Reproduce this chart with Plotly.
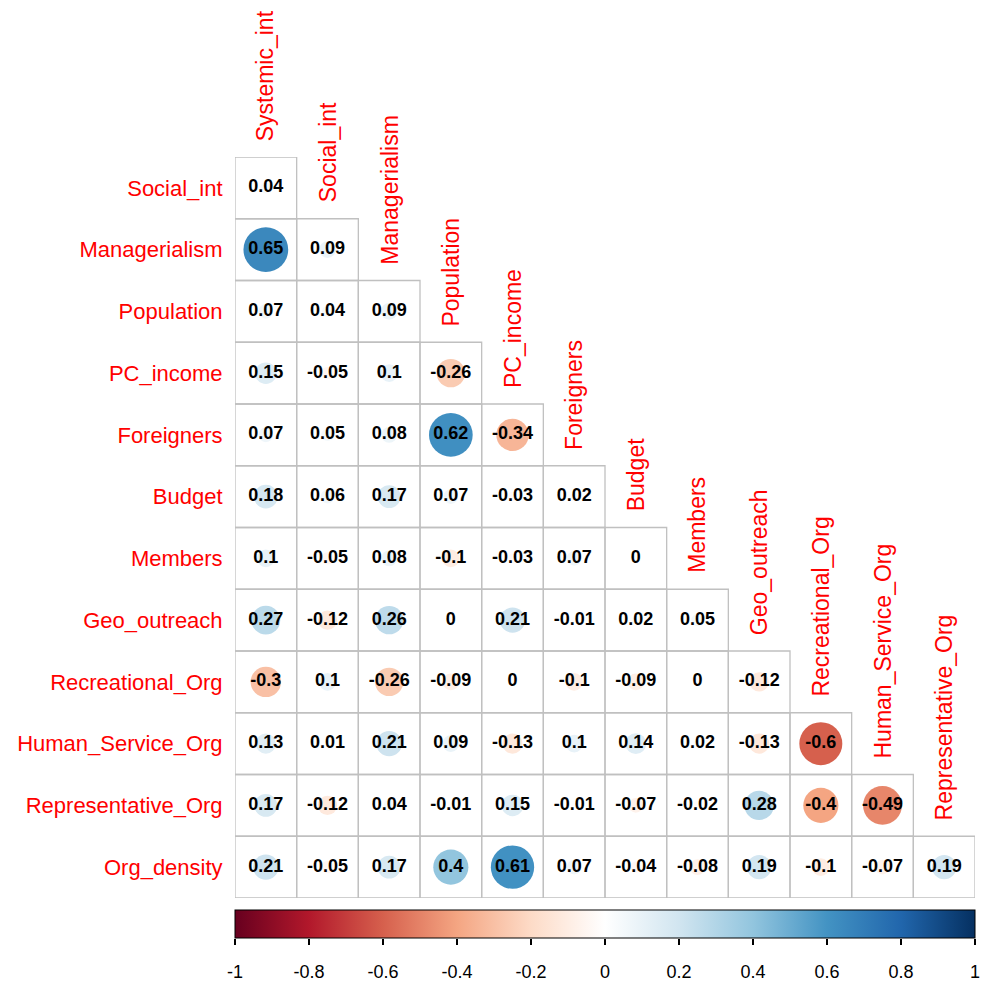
import plotly.graph_objects as go

W, H = 986, 983

col_labels = ["Systemic_int", "Social_int", "Managerialism", "Population", "PC_income",
              "Foreigners", "Budget", "Members", "Geo_outreach", "Recreational_Org",
              "Human_Service_Org", "Representative_Org"]
row_labels = ["Social_int", "Managerialism", "Population", "PC_income", "Foreigners",
              "Budget", "Members", "Geo_outreach", "Recreational_Org", "Human_Service_Org",
              "Representative_Org", "Org_density"]

# lower-triangle correlations, row i has i+1 values (columns 0..i)
r_social_int = [0.04]
r_managerialism = [0.65, 0.09]
r_population = [0.07, 0.04, 0.09]
r_pc_income = [0.15, -0.05, 0.1, -0.26]
r_foreigners = [0.07, 0.05, 0.08, 0.62, -0.34]
r_budget = [0.18, 0.06, 0.17, 0.07, -0.03, 0.02]
r_members = [0.1, -0.05, 0.08, -0.1, -0.03, 0.07, 0]
r_geo_outreach = [0.27, -0.12, 0.26, 0, 0.21, -0.01, 0.02, 0.05]
r_recreational = [-0.3, 0.1, -0.26, -0.09, 0, -0.1, -0.09, 0, -0.12]
r_human_service = [0.13, 0.01, 0.21, 0.09, -0.13, 0.1, 0.14, 0.02, -0.13, -0.6]
r_representative = [0.17, -0.12, 0.04, -0.01, 0.15, -0.01, -0.07, -0.02, 0.28, -0.4, -0.49]
r_org_density = [0.21, -0.05, 0.17, 0.4, 0.61, 0.07, -0.04, -0.08, 0.19, -0.1, -0.07, 0.19]

rows = [r_social_int, r_managerialism, r_population, r_pc_income, r_foreigners, r_budget,
        r_members, r_geo_outreach, r_recreational, r_human_service, r_representative,
        r_org_density]

cbar_ticks = [-1, -0.8, -0.6, -0.4, -0.2, 0, 0.2, 0.4, 0.6, 0.8, 1]
cbar_ticktext = ["-1", "-0.8", "-0.6", "-0.4", "-0.2", "0", "0.2", "0.4", "0.6", "0.8", "1"]

rdbu = ["#67001F", "#B2182B", "#D6604D", "#F4A582", "#FDDBC7", "#FFFFFF",
        "#D1E5F0", "#92C5DE", "#4393C3", "#2166AC", "#053061"]
colorscale = [[k / (len(rdbu) - 1), c] for k, c in enumerate(rdbu)]

FONT = "Arial, Liberation Sans"

# layout geometry (pixels)
left, right, top, bottom = 235, 975, 157, 898
bar_top, bar_bottom = 910, 938
n = len(col_labels)
cell_px = (right - left) / n

xs, ys, vals, texts, sizes = [], [], [], [], []
for i, rv in enumerate(rows):
    for j, v in enumerate(rv):
        xs.append(j)
        ys.append(i)
        vals.append(v)
        texts.append("%g" % v)
        sizes.append(0.9 * (abs(v) ** 0.5) * cell_px)

fig = go.Figure()
fig.add_trace(go.Scatter(
    x=xs, y=ys, mode="markers+text", text=texts, textposition="middle center",
    textfont=dict(family=FONT, size=18, color="black", weight="bold"),
    marker=dict(size=sizes, color=vals, colorscale=colorscale, cmin=-1, cmax=1,
                line=dict(width=0), opacity=1,
                showscale=True,
                colorbar=dict(orientation="h", x=(left + right) / 2 / W, xanchor="center",
                              len=(right - left) / W, lenmode="fraction",
                              y=1 - bar_top / H, yanchor="top",
                              thickness=bar_bottom - bar_top,
                              xpad=0, ypad=0, outlinewidth=1, outlinecolor="black",
                              ticks="", showticklabels=False)),
    hoverinfo="skip", showlegend=False,
))

# invisible trace that carries the colour-bar tick axis
fig.add_trace(go.Scatter(x=cbar_ticks, y=[0] * len(cbar_ticks), xaxis="x2", yaxis="y2",
                         mode="markers", marker=dict(opacity=0), hoverinfo="skip",
                         showlegend=False))

shapes = []
for i, rv in enumerate(rows):
    for j in range(len(rv)):
        shapes.append(dict(type="rect", xref="x", yref="y", x0=j - 0.5, x1=j + 0.5,
                           y0=i - 0.5, y1=i + 0.5, line=dict(color="#C0C0C0", width=1.3),
                           layer="below"))

annotations = []
for j, lab in enumerate(col_labels):
    annotations.append(dict(x=j, y=j - 0.5, xref="x", yref="y", text=lab, showarrow=False,
                            textangle=-90, xanchor="center", yanchor="bottom", yshift=14,
                            font=dict(family=FONT, size=23, color="red")))

fig.update_layout(
    width=W, height=H, margin=dict(l=0, r=0, t=0, b=0, autoexpand=False),
    paper_bgcolor="white", plot_bgcolor="white",
    shapes=shapes, annotations=annotations,
    xaxis=dict(range=[-0.5, n - 0.5], domain=[left / W, right / W], showgrid=False,
               zeroline=False, showticklabels=False, showline=False, ticks="",
               automargin=False),
    yaxis=dict(range=[n - 0.5, -0.5], domain=[1 - bottom / H, 1 - top / H], showgrid=False,
               zeroline=False, showline=False, tickmode="array", tickvals=list(range(n)),
               ticktext=row_labels, ticks="outside", ticklen=7, tickcolor="rgba(0,0,0,0)",
               tickfont=dict(family=FONT, size=22, color="red"), automargin=False),
    xaxis2=dict(range=[-1, 1], domain=[left / W, right / W], anchor="y2", side="bottom",
                showgrid=False, zeroline=False, showline=False,
                tickmode="array", tickvals=cbar_ticks, ticktext=cbar_ticktext,
                ticks="outside", ticklen=6, tickwidth=1.5, tickcolor="black",
                ticklabelstandoff=11, automargin=False,
                tickfont=dict(family=FONT, size=18, color="black")),
    yaxis2=dict(domain=[1 - bar_bottom / H, 1 - bar_top / H], anchor="x2", visible=False,
                range=[-1, 1], automargin=False),
)

fig.write_html("out.html")
